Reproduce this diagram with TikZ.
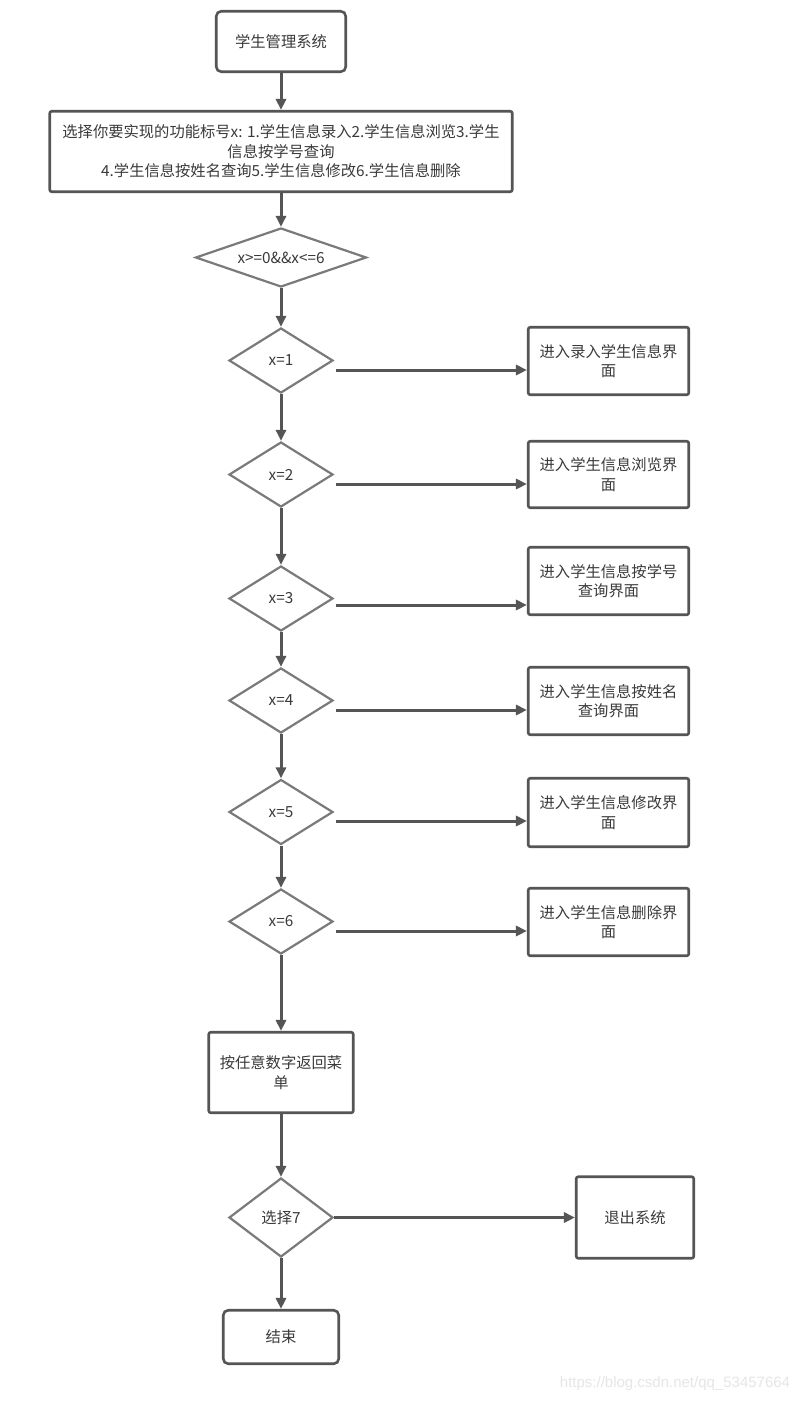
\documentclass[tikz,border=0pt]{standalone}
\usepackage{fontspec}
\setmainfont{Noto Sans CJK SC}
\newfontfamily\wmfont{Liberation Sans}
\usetikzlibrary{arrows.meta,shapes.geometric}
\definecolor{edgec}{HTML}{555555}
\definecolor{diac}{HTML}{7A7A7A}
\definecolor{txtc}{HTML}{3A3A3A}
\definecolor{wmc}{HTML}{E6E6E6}
\tikzset{
  box/.style={draw=edgec, line width=2.6pt, fill=white, text=txtc,
    font=\fontsize{15.3}{19.5}\selectfont, align=center, inner sep=0pt, rounded corners=2pt},
  rbox/.style={box, rounded corners=5pt},
  dia/.style={diamond, draw=diac, line width=2.2pt, fill=white, text=txtc,
    font=\fontsize{15.3}{19.5}\selectfont, inner sep=0pt, align=center, aspect=1.6},
  conn/.style={draw=edgec, line width=3pt, -{Triangle[length=11pt,width=10pt]}},
  wm/.style={text=wmc, font=\wmfont\fontsize{15}{15}\selectfont, inner sep=0pt}
}
\begin{document}
\begin{tikzpicture}[x=1pt,y=-1pt]
\fill[white] (0,0) rectangle (807,1402);
\useasboundingbox (0,0) rectangle (807,1402);

\node[rbox, minimum width=129.5pt, minimum height=60.5pt] (start) at (281,41.5) {学生管理系统};
\node[box, minimum width=462.5pt, minimum height=80.5pt] (menu) at (281,151.5)
  {选择你要实现的功能标号x: 1.学生信息录入2.学生信息浏览3.学生\\信息按学号查询\\4.学生信息按姓名查询5.学生信息修改6.学生信息删除};
\node[dia, aspect=2.9, minimum width=171pt, minimum height=59pt] (cond) at (281,257.5) {x>=0\&\&x<=6};

\node[dia, minimum width=104pt, minimum height=65pt] (d1) at (281,360.5) {x=1};
\node[dia, minimum width=104pt, minimum height=65pt] (d2) at (281,474.5) {x=2};
\node[dia, minimum width=104pt, minimum height=65pt] (d3) at (281,598.5) {x=3};
\node[dia, minimum width=104pt, minimum height=65pt] (d4) at (281,700.5) {x=4};
\node[dia, minimum width=104pt, minimum height=65pt] (d5) at (281,812) {x=5};
\node[dia, minimum width=104pt, minimum height=65pt] (d6) at (281,921.5) {x=6};

\node[box, minimum width=160.5pt, minimum height=67.5pt] (r1) at (608.5,361) {进入录入学生信息界\\面};
\node[box, minimum width=160.5pt, minimum height=66.5pt] (r2) at (608.5,474.5) {进入学生信息浏览界\\面};
\node[box, minimum width=160.5pt, minimum height=67.5pt] (r3) at (608.5,581) {进入学生信息按学号\\查询界面};
\node[box, minimum width=160.5pt, minimum height=67.5pt] (r4) at (608.5,701) {进入学生信息按姓名\\查询界面};
\node[box, minimum width=160.5pt, minimum height=68.5pt] (r5) at (608.5,812.5) {进入学生信息修改界\\面};
\node[box, minimum width=160.5pt, minimum height=67.5pt] (r6) at (608.5,922) {进入学生信息删除界\\面};

\node[box, minimum width=144.5pt, minimum height=80.5pt] (back) at (281,1072.5) {按任意数字返回菜\\单};
\node[dia, aspect=1.3, minimum width=104pt, minimum height=79pt] (sel) at (281,1217.5) {选择7};
\node[box, minimum width=117.5pt, minimum height=81.5pt] (exit) at (635,1217.5) {退出系统};
\node[rbox, minimum width=115.5pt, minimum height=53.5pt] (end) at (281,1337) {结束};

\node[wm] (wmark) at (675,1384) {https://blog.csdn.net/qq\_53457664};

% vertical connectors
\draw[conn] (start) -- (menu);
\draw[conn] (menu) -- (cond);
\draw[conn] (cond) -- (d1);
\draw[conn] (d1) -- (d2);
\draw[conn] (d2) -- (d3);
\draw[conn] (d3) -- (d4);
\draw[conn] (d4) -- (d5);
\draw[conn] (d5) -- (d6);
\draw[conn] (d6) -- (back);
\draw[conn] (back) -- (sel);
\draw[conn] (sel) -- (end);

% horizontal connectors
\coordinate (a1) at ([shift={(2,9.5)}]d1.east);
\coordinate (a2) at ([shift={(2,9.5)}]d2.east);
\coordinate (a3) at ([shift={(2,6.5)}]d3.east);
\coordinate (a4) at ([shift={(2,9.5)}]d4.east);
\coordinate (a5) at ([shift={(2,9)}]d5.east);
\coordinate (a6) at ([shift={(2,9.5)}]d6.east);
\draw[conn] (a1) -- (a1 -| r1.west);
\draw[conn] (a2) -- (a2 -| r2.west);
\draw[conn] (a3) -- (a3 -| r3.west);
\draw[conn] (a4) -- (a4 -| r4.west);
\draw[conn] (a5) -- (a5 -| r5.west);
\draw[conn] (a6) -- (a6 -| r6.west);
\draw[conn] (sel.east) -- (exit.west);
\end{tikzpicture}
\end{document}
